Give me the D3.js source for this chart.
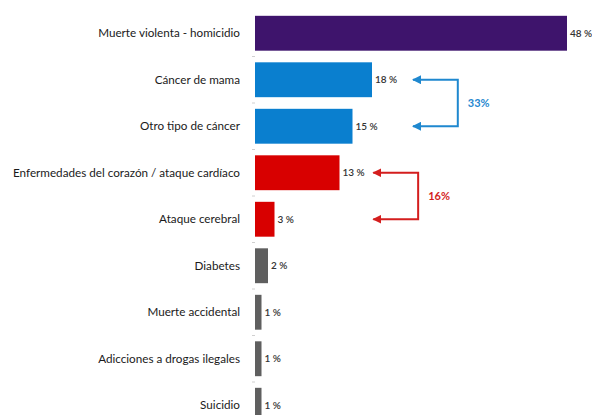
<!DOCTYPE html>
<html>
<head>
<meta charset="utf-8">
<script src="https://cdn.jsdelivr.net/npm/d3@7"></script>
<style>
  body { margin: 0; background: #fff; }
  svg { display: block; }
</style>
</head>
<body>
<svg id="draw" width="592" height="415"></svg>
<script>
let categories = ["Muerte violenta - homicidio", "Cáncer de mama", "Otro tipo de cáncer",
    "Enfermedades del corazón / ataque cardíaco", "Ataque cerebral", "Diabetes",
    "Muerte accidental", "Adicciones a drogas ilegales", "Suicidio"];
let values = [48, 18, 15, 13, 3, 2, 1, 1, 1];
let barColors = ["#3e146c", "#0a7fcf", "#0a7fcf", "#d80000", "#d80000",
    "#5f5f5f", "#5f5f5f", "#5f5f5f", "#5f5f5f"];

// bracket notes: which two bars, total label, where the arrow tips / spine sit (in %)
let brackets = [
    { from: 1, to: 2, label: "33%", tip: 24.3, spine: 31.2, color: "#1f88cf" },
    { from: 3, to: 4, label: "16%", tip: 18.2, spine: 25.1, color: "#d41e1e" }
];

let svg = d3.select("#draw");
let font = "Lato, 'Open Sans', sans-serif";

let x = d3.scaleLinear().domain([0, 48]).range([255, 567]);
let y = d3.scaleBand().domain(categories).range([10, 428.5]).paddingInner(0.25).paddingOuter(0.125);

// small category ticks between bars
let bounds = categories.map((c, i) => y(c) - y.step() * y.paddingInner() / 2);
svg.append("g").selectAll("line")
    .data(bounds.slice(1))
    .enter()
    .append("line")
    .attr("x1", 252).attr("x2", 255)
    .attr("y1", d => d).attr("y2", d => d)
    .attr("stroke", "#d0d0d0")
    .attr("stroke-width", 1);

svg.append("g").selectAll("rect")
    .data(categories)
    .enter()
    .append("rect")
    .attr("x", x(0))
    .attr("y", c => y(c))
    .attr("width", (c, i) => x(values[i]) - x(0))
    .attr("height", y.bandwidth())
    .attr("fill", (c, i) => barColors[i]);

svg.append("g").selectAll("text")
    .data(categories)
    .enter()
    .append("text")
    .attr("x", 240)
    .attr("y", c => y(c) + y.bandwidth() / 2)
    .attr("dy", "0.35em")
    .attr("text-anchor", "end")
    .attr("font-family", font)
    .attr("font-size", 11.7)
    .attr("fill", "#1a1a1a")
    .text(c => c);

svg.append("g").selectAll("text")
    .data(categories)
    .enter()
    .append("text")
    .attr("x", (c, i) => x(values[i]) + 3)
    .attr("y", c => y(c) + y.bandwidth() / 2)
    .attr("dy", "0.35em")
    .attr("font-family", font)
    .attr("font-size", 10)
    .attr("font-weight", 600)
    .attr("fill", "#333")
    .text((c, i) => values[i] + " %");

let defs = svg.append("defs");
brackets.forEach((b, k) => {
    defs.append("marker")
        .attr("id", "arrow" + k)
        .attr("viewBox", "0 0 10 10")
        .attr("refX", 9).attr("refY", 5)
        .attr("markerWidth", 4.5).attr("markerHeight", 4.5)
        .attr("orient", "auto-start-reverse")
        .append("path")
        .attr("d", "M0,0 L10,5 L0,10 Z")
        .attr("fill", b.color);

    let y1 = y(categories[b.from]) + y.bandwidth() / 2,
        y2 = y(categories[b.to]) + y.bandwidth() / 2;
    svg.append("path")
        .attr("d", "M" + x(b.tip) + "," + y1 + " H" + x(b.spine) + " V" + y2 + " H" + x(b.tip))
        .attr("fill", "none")
        .attr("stroke", b.color)
        .attr("stroke-width", 2)
        .attr("marker-start", "url(#arrow" + k + ")")
        .attr("marker-end", "url(#arrow" + k + ")");
    svg.append("text")
        .attr("x", x(b.spine) + 10)
        .attr("y", (y1 + y2) / 2)
        .attr("dy", "0.35em")
        .attr("font-family", font)
        .attr("font-size", 11)
        .attr("font-weight", "bold")
        .attr("fill", b.color)
        .text(b.label);
});
</script>
</body>
</html>
